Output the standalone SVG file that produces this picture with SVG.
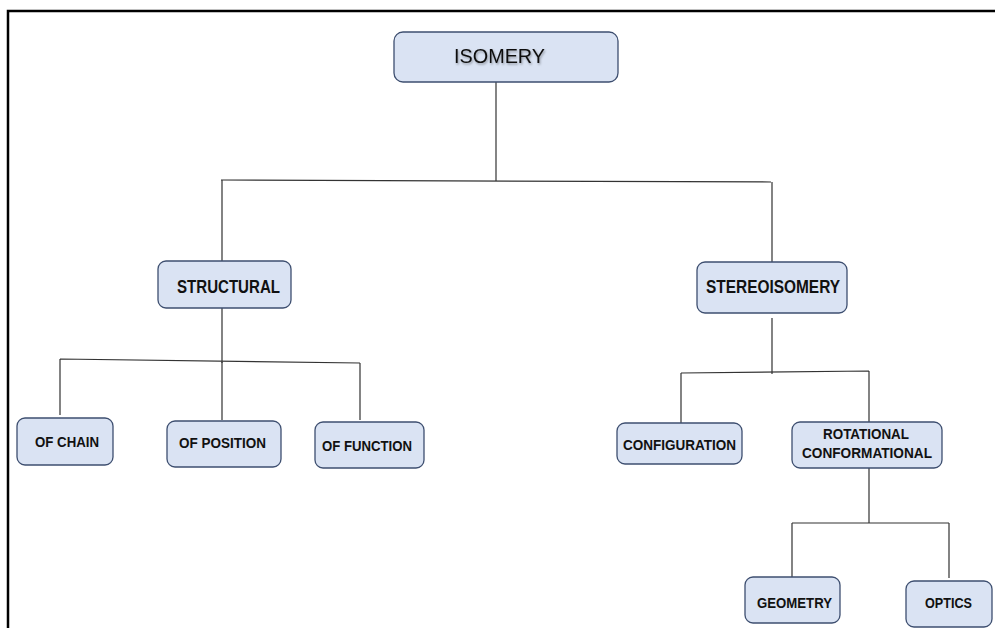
<svg xmlns="http://www.w3.org/2000/svg" width="995" height="628" viewBox="0 0 995 628">
<defs>
<style>
.box{fill:#dae3f3;stroke:#3e4f70;stroke-width:1.3}
.t{font-family:"Liberation Sans",Arial,sans-serif;font-weight:bold;font-size:15px;fill:#111}
.h{font-family:"Liberation Sans",Arial,sans-serif;font-weight:bold;font-size:18px;fill:#111}
.c{fill:none;stroke:#333;stroke-width:1.2}
</style>
<filter id="sh" x="-10%" y="-30%" width="120%" height="160%">
<feDropShadow dx="1" dy="1.5" stdDeviation="1" flood-color="#000" flood-opacity="0.35"/>
</filter>
</defs>
<rect width="995" height="628" fill="#fff"/>
<path d="M8 628 V11 H995" fill="none" stroke="#000" stroke-width="2.5"/>
<g id="connectors">
<path class="c" d="M496 82 V181"/>
<path class="c" d="M221 180 L771 182"/>
<path class="c" d="M222 180 V261 M222 308 V363"/>
<path class="c" d="M772 182 V262 M772 318 V374"/>
<path class="c" d="M60 359 L360 363 M60 359 V415 M222 361 V420 M360 363 V420"/>
<path class="c" d="M681 373 L869 371 M681 373 V423 M869 371 V422"/>
<path class="c" d="M869 468 V523 M792 523 H949 M792 523 V577 M949 523 V578"/>
</g>
<g id="isomery">
<rect class="box" x="394" y="32" width="224" height="50" rx="9"/>
<text x="454" y="63" font-family="Liberation Sans,Arial,sans-serif" font-size="21" fill="#111" textLength="91" lengthAdjust="spacingAndGlyphs" filter="url(#sh)">ISOMERY</text>
</g>
<g id="structural">
<rect class="box" x="158" y="261" width="133" height="47" rx="8"/>
<text class="h" x="177" y="293" textLength="103" lengthAdjust="spacingAndGlyphs">STRUCTURAL</text>
</g>
<g id="stereoisomery">
<rect class="box" x="697" y="262" width="150" height="51" rx="8"/>
<text class="h" x="706" y="293" textLength="134" lengthAdjust="spacingAndGlyphs">STEREOISOMERY</text>
</g>
<g id="of-chain">
<rect class="box" x="17" y="418" width="96" height="47" rx="8"/>
<text class="t" x="35" y="447" textLength="64" lengthAdjust="spacingAndGlyphs">OF CHAIN</text>
</g>
<g id="of-position">
<rect class="box" x="167" y="421" width="114" height="46" rx="8"/>
<text class="t" x="179" y="448" textLength="87" lengthAdjust="spacingAndGlyphs">OF POSITION</text>
</g>
<g id="of-function">
<rect class="box" x="315" y="422" width="109" height="46" rx="8"/>
<text class="t" x="322" y="451" textLength="90" lengthAdjust="spacingAndGlyphs">OF FUNCTION</text>
</g>
<g id="configuration">
<rect class="box" x="617" y="423" width="125" height="41" rx="8"/>
<text class="t" x="623" y="450" textLength="113" lengthAdjust="spacingAndGlyphs">CONFIGURATION</text>
</g>
<g id="rotational">
<rect class="box" x="792" y="422" width="150" height="46" rx="8"/>
<text class="t" x="823" y="439" textLength="86" lengthAdjust="spacingAndGlyphs">ROTATIONAL</text>
<text class="t" x="802" y="458" textLength="130" lengthAdjust="spacingAndGlyphs">CONFORMATIONAL</text>
</g>
<g id="geometry">
<rect class="box" x="745" y="577" width="95" height="46" rx="8"/>
<text class="t" x="757" y="608" textLength="75" lengthAdjust="spacingAndGlyphs">GEOMETRY</text>
</g>
<g id="optics">
<rect class="box" x="906" y="581" width="86" height="46" rx="8"/>
<text class="t" x="925" y="608" textLength="47" lengthAdjust="spacingAndGlyphs">OPTICS</text>
</g>
</svg>
